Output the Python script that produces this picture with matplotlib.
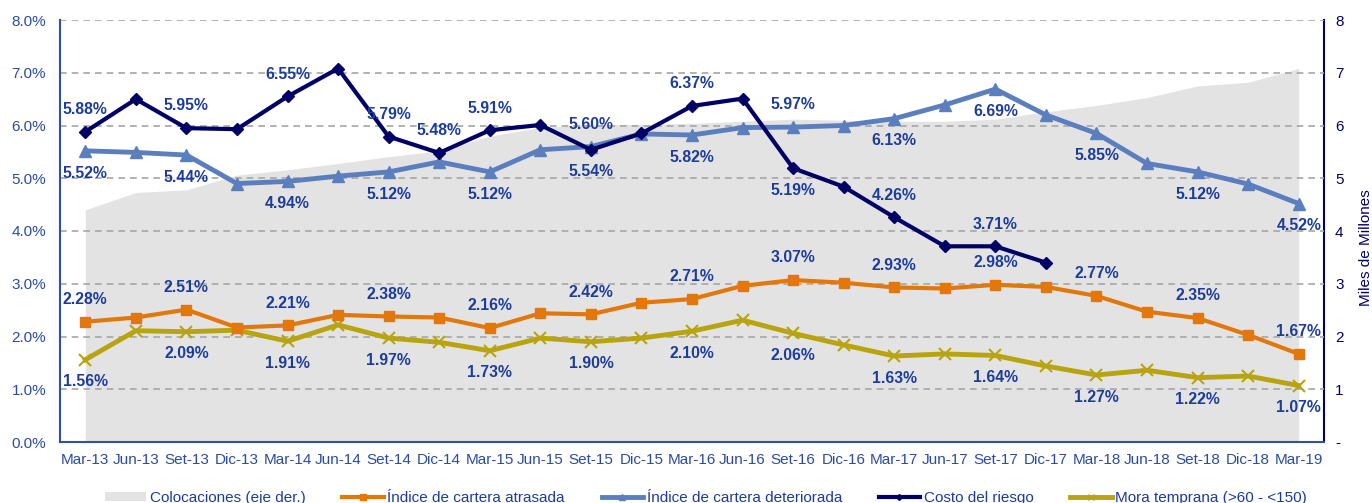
import matplotlib
matplotlib.use("Agg")
import matplotlib.pyplot as plt
from matplotlib.patches import Patch
from matplotlib.lines import Line2D

plt.rcParams['font.family'] = ['Liberation Sans', 'DejaVu Sans']

categories = ["Mar-13", "Jun-13", "Set-13", "Dic-13", "Mar-14", "Jun-14", "Set-14", "Dic-14",
              "Mar-15", "Jun-15", "Set-15", "Dic-15", "Mar-16", "Jun-16", "Set-16", "Dic-16",
              "Mar-17", "Jun-17", "Set-17", "Dic-17", "Mar-18", "Jun-18", "Set-18", "Dic-18", "Mar-19"]

colocaciones = [4.40, 4.73, 4.78, 5.06, 5.16, 5.28, 5.41, 5.52, 5.80, 5.96, 6.02, 6.02, 6.04,
                6.08, 6.12, 6.10, 6.08, 6.08, 6.12, 6.26, 6.38, 6.53, 6.75, 6.82, 7.08]

atrasada = [2.28, 2.36, 2.51, 2.17, 2.21, 2.41, 2.38, 2.36, 2.16, 2.44, 2.42, 2.64, 2.71,
            2.96, 3.07, 3.02, 2.93, 2.91, 2.98, 2.94, 2.77, 2.47, 2.35, 2.03, 1.67]

deteriorada = [5.52, 5.49, 5.44, 4.90, 4.94, 5.04, 5.12, 5.31, 5.12, 5.54, 5.60, 5.84, 5.82,
               5.96, 5.97, 6.00, 6.13, 6.39, 6.69, 6.20, 5.85, 5.28, 5.12, 4.89, 4.52]

costo_riesgo = [5.88, 6.50, 5.95, 5.93, 6.55, 7.08, 5.79, 5.48, 5.91, 6.01, 5.54, 5.85, 6.37,
                6.51, 5.19, 4.84, 4.26, 3.71, 3.71, 3.40]

mora_temprana = [1.56, 2.11, 2.09, 2.12, 1.91, 2.22, 1.97, 1.89, 1.73, 1.97, 1.90, 1.97, 2.10,
                 2.31, 2.06, 1.84, 1.63, 1.67, 1.64, 1.44, 1.27, 1.36, 1.22, 1.25, 1.07]

left_ticks = [0, 1, 2, 3, 4, 5, 6, 7, 8]
left_ticklabels = ["0.0%", "1.0%", "2.0%", "3.0%", "4.0%", "5.0%", "6.0%", "7.0%", "8.0%"]
right_ticklabels = ["-", "1", "2", "3", "4", "5", "6", "7", "8"]

# which points carry data labels: (index, direction +1 above / -1 below)
labels_costo = [(0, 1), (2, 1), (4, 1), (6, 1), (7, 1), (8, 1), (10, -1), (12, 1), (14, -1), (16, 1), (18, 1)]
labels_deter = [(0, -1), (2, -1), (4, -1), (6, -1), (8, -1), (10, 1), (12, -1), (14, 1), (16, -1),
                (18, -1), (20, -1), (22, -1), (24, -1)]
labels_atras = [(i, 1) for i in range(0, 25, 2)]
labels_mora = [(i, -1) for i in range(0, 25, 2)]

C_NAVY = "#000066"
C_LBLUE = "#5B7FBE"
C_ORANGE = "#E2780C"
C_OLIVE = "#B8A40E"
C_GRAY = "#E3E3E3"
C_TXT = "#1C3C9C"
C_TICK = "#2A4CA0"

fig = plt.figure(figsize=(13.72, 5.03), dpi=100)
ax = fig.add_axes([60/1372, 1-442/503, (1324-60)/1372, (442-20)/503])
ax2 = ax.twinx()

x = list(range(len(categories)))

ax2.fill_between(x, 0, colocaciones, color=C_GRAY, linewidth=0, zorder=1)
ax2.set_ylim(0, 8)
ax2.set_yticks(left_ticks)
ax2.set_yticklabels(right_ticklabels)
ax2.tick_params(axis='y', length=0, pad=8, labelsize=11, labelcolor=C_NAVY)
ax2.set_ylabel("Miles de Millones", color=C_NAVY, fontsize=11)
ax2.yaxis.set_label_coords(1.028, 0.46)

ax.set_zorder(ax2.get_zorder() + 1)
ax.patch.set_visible(False)

ax.plot(x, atrasada, color=C_ORANGE, lw=3, marker='s', ms=7.5, zorder=4)
ax.plot(x, mora_temprana, color=C_OLIVE, lw=3.5, marker='x', ms=8, mew=1.5, zorder=3)
ax.plot(x, deteriorada, color=C_LBLUE, lw=3.5, marker='^', ms=8, zorder=5)
ax.plot(x[:len(costo_riesgo)], costo_riesgo, color=C_NAVY, lw=3, marker='D', ms=6, zorder=6)

def add_labels(vals, spec):
    for i, d in spec:
        ax.annotate(f"{vals[i]:.2f}%", (i, vals[i]), xytext=(0, 16 * d), textcoords='offset points',
                    ha='center', va='center', fontsize=11.3, fontweight='bold', color=C_TXT, zorder=10)

add_labels(costo_riesgo, labels_costo)
add_labels(deteriorada, labels_deter)
add_labels(atrasada, labels_atras)
add_labels(mora_temprana, labels_mora)

ax.set_xlim(-0.5, len(categories) - 0.5)
ax.set_ylim(0, 8)
ax.set_yticks(left_ticks)
ax.set_yticklabels(left_ticklabels)
ax.set_xticks(x)
ax.set_xticklabels(categories)
ax.tick_params(axis='y', length=0, pad=10, labelsize=11, labelcolor=C_TICK)
ax.tick_params(axis='x', length=0, pad=8, labelsize=11, labelcolor=C_TICK)
for yv in left_ticks[1:]:
    ax.axhline(yv, color="#A6A6A6", lw=1.2, ls=(0, (4, 3)), zorder=2)

for a in (ax, ax2):
    a.spines['top'].set_visible(False)
ax.spines['left'].set_color("#2F4FA8")
ax.spines['left'].set_linewidth(1.5)
ax.spines['bottom'].set_color("#2F4FA8")
ax.spines['bottom'].set_linewidth(1.5)
ax.spines['right'].set_visible(False)
ax2.spines['left'].set_visible(False)
ax2.spines['bottom'].set_visible(False)
ax2.spines['right'].set_color(C_NAVY)
ax2.spines['right'].set_linewidth(1.5)

handles = [
    Patch(facecolor=C_GRAY, edgecolor='none'),
    Line2D([], [], color=C_ORANGE, lw=3, marker='s', ms=4),
    Line2D([], [], color=C_LBLUE, lw=3.5, marker='^', ms=4),
    Line2D([], [], color=C_NAVY, lw=3, marker='D', ms=3),
    Line2D([], [], color=C_OLIVE, lw=3.5, marker='x', ms=4, mew=1),
]
names = ["Colocaciones (eje der.)", "Índice de cartera atrasada", "Índice de cartera deteriorada",
         "Costo del riesgo", "Mora temprana (>60 - <150)"]
leg = fig.legend(handles, names, loc='center', bbox_to_anchor=(706/1372, 1-498/503), ncol=5,
                 frameon=False, fontsize=11, handlelength=2.7, handleheight=0.6, handletextpad=0.25,
                 columnspacing=2.4, borderpad=0)
for t in leg.get_texts():
    t.set_color(C_TXT)

fig.savefig("out.png", dpi=100)
